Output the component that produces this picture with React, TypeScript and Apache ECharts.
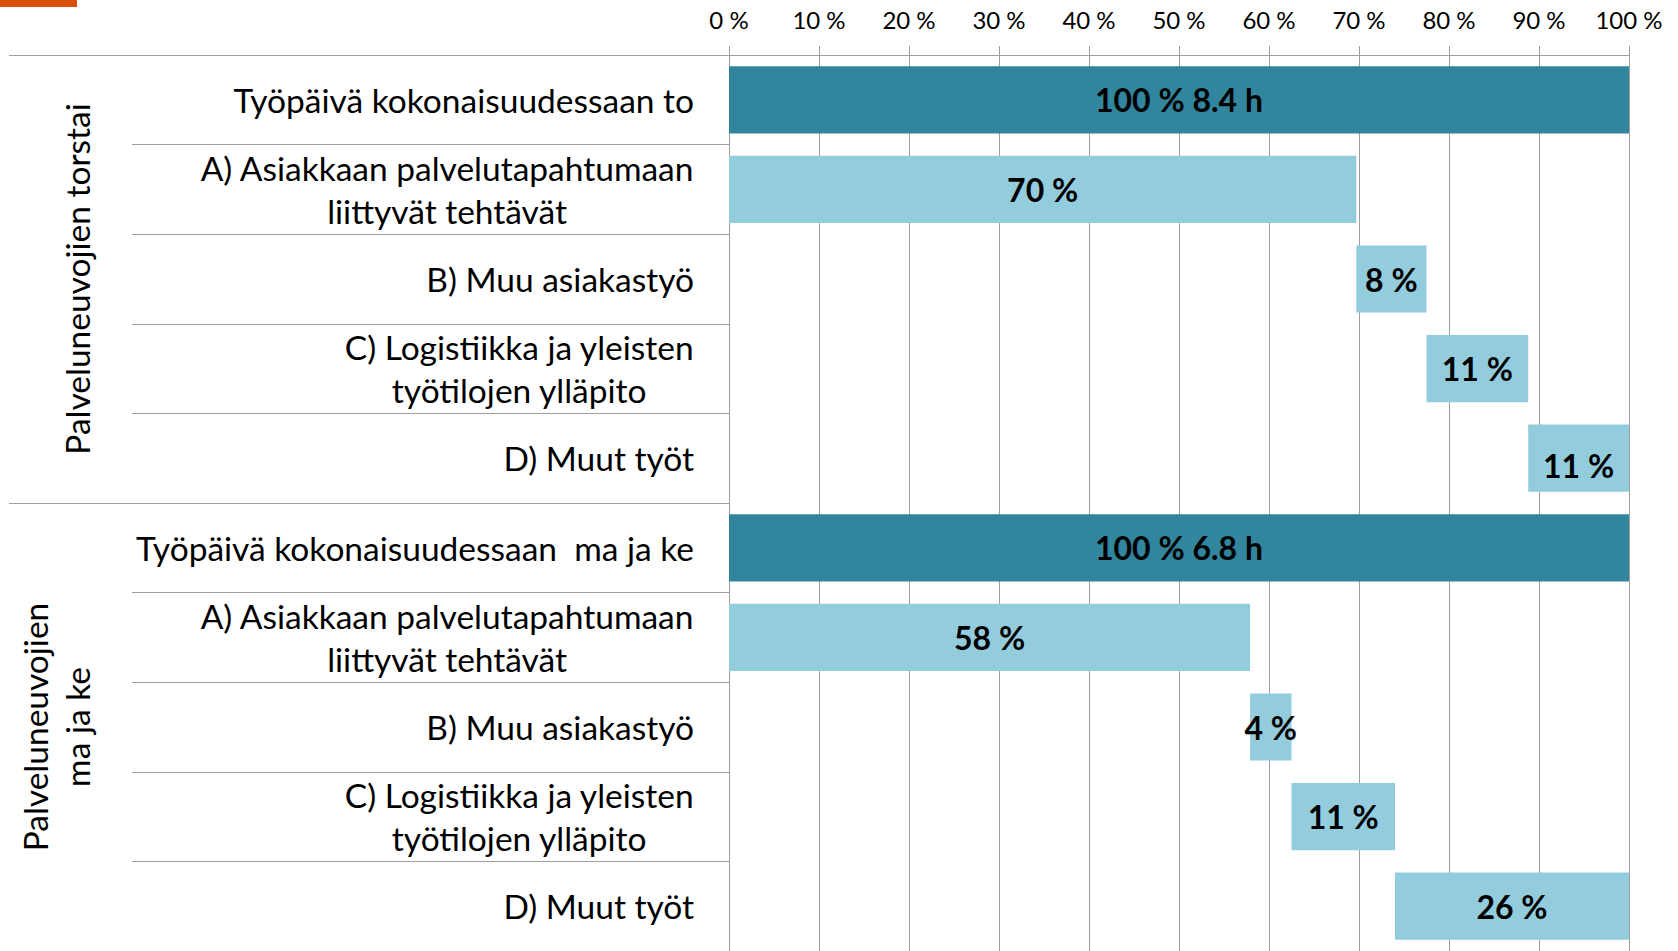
import React, { useEffect, useRef } from "react";
import * as echarts from "echarts";

const categories = [
  "Työpäivä kokonaisuudessaan to",
  "A) Asiakkaan palvelutapahtumaan\nliittyvät tehtävät",
  "B) Muu asiakastyö",
  "C) Logistiikka ja yleisten\ntyötilojen ylläpito",
  "D) Muut työt",
  "Työpäivä kokonaisuudessaan  ma ja ke",
  "A) Asiakkaan palvelutapahtumaan\nliittyvät tehtävät",
  "B) Muu asiakastyö",
  "C) Logistiikka ja yleisten\ntyötilojen ylläpito",
  "D) Muut työt",
];
const groups = ["Palveluneuvojien torstai", "Palveluneuvojien\nma ja ke"];
const totalHours = [8.4, 6.8];
const torstaiShares = [69.7, 7.8, 11.3, 11.2];
const torstaiLabels = [70, 8, 11, 11];
const maKeShares = [57.9, 4.6, 11.5, 26.0];
const maKeLabels = [58, 4, 11, 26];
const xTicks = [0, 100, 10];

const DARK = "#31859C";
const LIGHT = "#93CDDD";
const GRID = "#9E9E9E";
const FONT = "Lato, 'Noto Sans', sans-serif";

function buildGroup(shares: number[], labels: number[], hours: number) {
  const base: number[] = [0];
  const vals: number[] = [100];
  const texts: string[] = [`100 % ${hours.toFixed(1)} h`];
  const colors: string[] = [DARK];
  let acc = 0;
  shares.forEach((s, i) => {
    base.push(acc);
    vals.push(s);
    texts.push(`${labels[i]} %`);
    colors.push(LIGHT);
    acc += s;
  });
  return { base, vals, texts, colors };
}

export default function App() {
  const ref = useRef<HTMLDivElement>(null);
  useEffect(() => {
    document.body.style.margin = "0";
    if (!ref.current) return;
    const chart = echarts.init(ref.current, null, { renderer: "svg" });
    const g1 = buildGroup(torstaiShares, torstaiLabels, totalHours[0]);
    const g2 = buildGroup(maKeShares, maKeLabels, totalHours[1]);
    const base = [...g1.base, ...g2.base];
    const vals = [...g1.vals, ...g2.vals];
    const texts = [...g1.texts, ...g2.texts];
    const colors = [...g1.colors, ...g2.colors];

    chart.setOption({
      animation: false,
      graphic: [
        { type: "rect", left: 0, top: 0, shape: { width: 77, height: 7 }, style: { fill: "#D9500B" } },
      ],
      grid: { left: 729, right: 49, top: 55, height: 900, containLabel: false },
      xAxis: {
        type: "value",
        position: "top",
        min: xTicks[0],
        max: xTicks[1],
        interval: xTicks[2],
        axisLine: { show: true, lineStyle: { color: GRID, width: 1 } },
        axisTick: { show: true, length: 9, lineStyle: { color: GRID } },
        splitLine: { show: true, lineStyle: { color: GRID, width: 1 } },
        axisLabel: {
          formatter: (v: number) => `${v} %`,
          fontSize: 24,
          fontFamily: FONT,
          color: "#000",
          margin: 24,
        },
      },
      yAxis: [
        {
          type: "category",
          data: categories,
          inverse: true,
          position: "left",
          axisLine: { show: true, lineStyle: { color: GRID } },
          axisTick: { show: true, interval: 0, length: 597, lineStyle: { color: GRID } },
          splitLine: { show: false },
          axisLabel: {
            interval: 0,
            margin: 35,
            align: "right",
            formatter: (v: string) => v.split("\n").map((l) => `{c|${l}}`).join("\n"),
            rich: {
              c: { align: "center", fontSize: 33.5, lineHeight: 43, fontFamily: FONT, color: "#000" },
            },
          },
        },
        {
          type: "category",
          data: groups,
          inverse: true,
          position: "left",
          axisLine: { show: false },
          axisTick: { show: true, interval: 0, length: 720, lineStyle: { color: GRID } },
          splitLine: { show: false },
          axisLabel: {
            interval: 0,
            rotate: 90,
            margin: 631,
            fontSize: 33.5,
            lineHeight: 42,
            fontFamily: FONT,
            color: "#000",
          },
        },
      ],
      series: [
        {
          type: "bar",
          stack: "s",
          yAxisIndex: 0,
          data: base,
          itemStyle: { color: "transparent" },
          barCategoryGap: "25%",
          silent: true,
        },
        {
          type: "bar",
          stack: "s",
          yAxisIndex: 0,
          barCategoryGap: "25%",
          data: vals.map((v, i) => ({
            value: v,
            itemStyle: { color: colors[i] },
            label: i === 4 ? { offset: [0, 7] } : undefined,
          })),
          label: {
            show: true,
            position: "inside",
            formatter: (p: any) => texts[p.dataIndex],
            fontSize: 32,
            fontWeight: "bold",
            fontFamily: FONT,
            color: "#000",
          },
        },
      ],
    });
    return () => chart.dispose();
  }, []);
  return <div ref={ref} style={{ width: 1678, height: 951 }} />;
}
